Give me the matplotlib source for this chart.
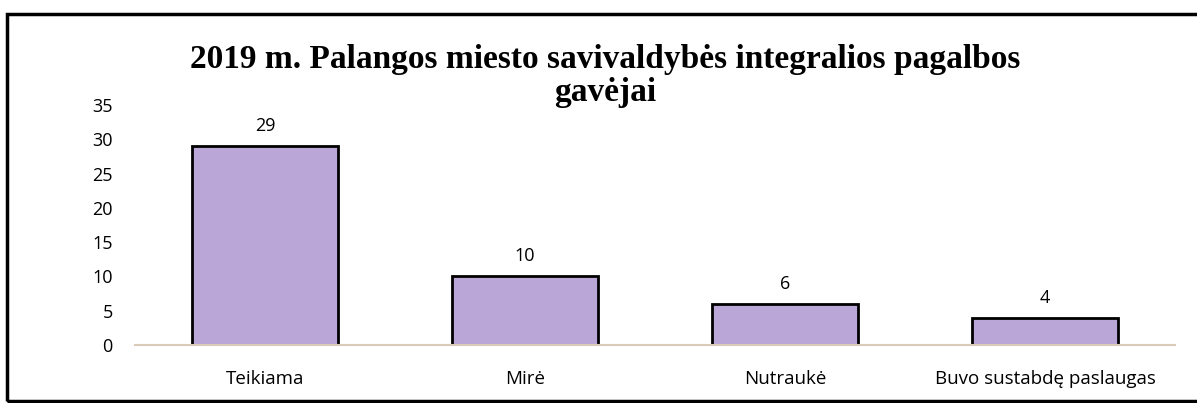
import matplotlib.pyplot as plt
from matplotlib.patches import Rectangle

categories = ["Teikiama", "Mirė", "Nutraukė", "Buvo sustabdę paslaugas"]
values = [29, 10, 6, 4]
yticks = [0, 5, 10, 15, 20, 25, 30, 35]
title = "2019 m. Palangos miesto savivaldybės integralios pagalbos\ngavėjai"

plt.rcParams["font.family"] = ["Open Sans", "DejaVu Sans"]

fig = plt.figure(figsize=(11.97, 4.03), dpi=100)
ax = fig.add_axes([135 / 1197, 1 - 345 / 403, 1040 / 1197, 240 / 403])

x = range(len(categories))
bars = ax.bar(x, values, width=0.56, color="#bba6d8", edgecolor="black", linewidth=2)
for b, v in zip(bars, values):
    ax.text(b.get_x() + b.get_width() / 2, v + 1.6, str(v),
            ha="center", va="bottom", fontsize=13)

ax.set_xlim(-0.5, len(categories) - 0.5)
ax.set_ylim(0, 35)
ax.set_yticks(yticks)
ax.set_xticks(list(x))
ax.set_xticklabels(categories, fontsize=13.5)
ax.tick_params(axis="y", length=0, labelsize=13, pad=16)
ax.tick_params(axis="x", length=0, pad=18)
for s in ["top", "right", "left"]:
    ax.spines[s].set_visible(False)
ax.spines["bottom"].set_color("#d8ccb8")
ax.spines["bottom"].set_linewidth(1.5)

fig.text(605 / 1197, 1 - 76 / 403, title, ha="center", va="center",
         fontsize=24, fontweight="bold", family="Liberation Serif", linespacing=1.12)

fig.add_artist(Rectangle((7 / 1197, 2 / 403), 1200 / 1197, 387 / 403,
                         transform=fig.transFigure, fill=False,
                         edgecolor="black", linewidth=2.5))

fig.savefig("out.png", dpi=100)
